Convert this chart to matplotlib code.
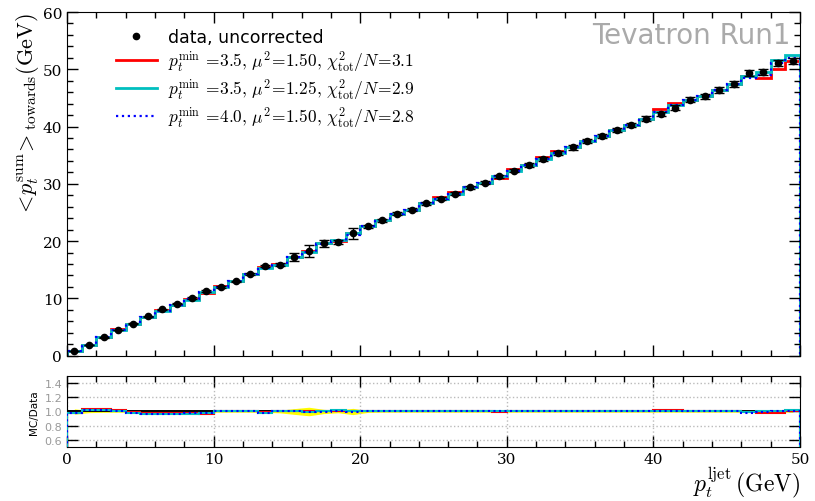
import numpy as np
import matplotlib.pyplot as plt
from matplotlib.lines import Line2D
from matplotlib.ticker import MultipleLocator

plt.rcParams['mathtext.fontset'] = 'cm'

# bin edges of p_t^ljet (GeV), 1 GeV wide
edges = np.arange(0, 51, 1)

# data, uncorrected: <p_t^sum>_towards per bin and its error
data = [0.8, 1.85, 3.2, 4.5, 5.6, 6.9, 8.1, 9.05, 10.05, 11.3,
        12.0, 12.95, 14.2, 15.6, 15.9, 17.3, 18.25, 19.65, 19.8, 21.35,
        22.55, 23.6, 24.8, 25.5, 26.6, 27.4, 28.3, 29.4, 30.2, 31.3,
        32.3, 33.3, 34.4, 35.3, 36.35, 37.5, 38.4, 39.4, 40.25, 41.4,
        42.2, 43.3, 44.65, 45.25, 46.4, 47.4, 49.3, 49.55, 51.05, 51.45]
data_err = [0.03, 0.03, 0.04, 0.05, 0.06, 0.07, 0.08, 0.09, 0.1, 0.12,
            0.12, 0.13, 0.15, 0.18, 0.3, 0.7, 1.1, 0.6, 0.35, 0.95,
            0.3, 0.24, 0.25, 0.25, 0.27, 0.27, 0.28, 0.3, 0.3, 0.32,
            0.32, 0.33, 0.34, 0.35, 0.36, 0.37, 0.38, 0.39, 0.4, 0.41,
            0.42, 0.43, 0.45, 0.45, 0.46, 0.47, 0.55, 0.5, 0.5, 0.5]

# MC/Data ratios
ratio_red = [0.98, 1.03, 1.03, 1.02, 0.99, 0.98, 0.98, 0.98, 0.98, 0.97,
             1.01, 1.01, 1.00, 0.99, 1.01, 1.00, 1.00, 1.00, 1.01, 1.00,
             1.00, 1.00, 1.00, 1.00, 1.00, 1.01, 1.01, 1.00, 1.00, 0.99,
             1.01, 1.00, 1.01, 1.01, 1.00, 1.00, 1.00, 1.00, 1.00, 1.00,
             1.02, 1.02, 1.00, 1.00, 1.00, 1.00, 0.99, 0.98, 0.98, 1.00]
ratio_cyan = [0.98, 1.02, 1.02, 1.01, 0.98, 0.97, 0.97, 0.97, 0.97, 0.98,
              1.00, 1.00, 1.00, 0.98, 1.00, 1.00, 0.99, 1.00, 1.02, 1.00,
              1.00, 1.00, 1.00, 1.00, 1.00, 1.00, 1.00, 1.00, 1.00, 1.00,
              1.00, 1.00, 1.00, 1.00, 1.00, 1.00, 1.00, 1.00, 1.00, 1.00,
              1.01, 1.01, 1.00, 1.00, 1.00, 1.00, 0.99, 1.00, 1.01, 1.02]
ratio_blue = [0.98, 1.02, 1.02, 1.00, 0.98, 0.97, 0.97, 0.97, 0.98, 0.98,
              1.00, 1.00, 1.00, 0.98, 1.00, 1.00, 0.99, 0.99, 1.01, 0.99,
              1.00, 1.00, 1.00, 1.00, 1.00, 1.00, 1.00, 1.00, 1.00, 1.00,
              1.00, 1.00, 1.00, 1.00, 1.00, 1.00, 1.00, 1.00, 1.00, 1.00,
              1.01, 1.01, 1.00, 1.00, 1.00, 1.00, 0.985, 0.99, 1.00, 1.01]

labels = [r'$p_t^{\rm min}\,=\!3.5,\, \mu^2\!=\!1.50,\, \chi^2_{\rm tot}/N\!=\!3.1$',
          r'$p_t^{\rm min}\,=\!3.5,\, \mu^2\!=\!1.25,\, \chi^2_{\rm tot}/N\!=\!2.9$',
          r'$p_t^{\rm min}\,=\!4.0,\, \mu^2\!=\!1.50,\, \chi^2_{\rm tot}/N\!=\!2.8$']

d = np.array(data)
de = np.array(data_err)
centers = 0.5 * (edges[:-1] + edges[1:])

fig = plt.figure(figsize=(8.15, 5.02), dpi=100)
ax = fig.add_axes([0.0822, 0.2896, 0.8994, 0.6845])
axr = fig.add_axes([0.0822, 0.1076, 0.8994, 0.1414])

styles = [dict(color='#ff0000', lw=2.0, ls='-'),
          dict(color='#00bfbf', lw=2.0, ls='-'),
          dict(color='#0000ff', lw=1.6, ls=':')]
ratios = [ratio_red, ratio_cyan, ratio_blue]

handles = [Line2D([], [], color='k', marker='o', ls='none', ms=4.5)]
for r, st in zip(ratios, styles):
    ax.stairs(d * np.array(r), edges, **st)
    handles.append(Line2D([], [], **st))

ax.errorbar(centers, d, yerr=de, fmt='o', color='k', ms=4.5,
            capsize=3.5, elinewidth=1.0, capthick=1.0, zorder=5)

ax.set_xlim(0, 50)
ax.set_ylim(0, 60)
ax.xaxis.set_major_locator(MultipleLocator(10))
ax.xaxis.set_minor_locator(MultipleLocator(2))
ax.yaxis.set_major_locator(MultipleLocator(10))
ax.yaxis.set_minor_locator(MultipleLocator(2))
ax.tick_params(which='both', direction='in', top=True, right=True)
ax.tick_params(which='major', length=8, width=1)
ax.tick_params(which='minor', length=4, width=1)
ax.tick_params(axis='x', labelbottom=False)
for lab in ax.get_yticklabels():
    lab.set_family('DejaVu Serif')
    lab.set_fontsize(11)
ax.set_ylabel(r'$<\!p_t^{\rm sum}\!>_{\rm towards}({\rm GeV})$', fontsize=16,
              loc='top', labelpad=1)

ax.text(0.987, 0.975, 'Tevatron Run1', transform=ax.transAxes, ha='right', va='top',
        fontsize=20, color='#aaaaaa')

ax.legend(handles, ['data, uncorrected'] + labels, loc='upper left',
          bbox_to_anchor=(0.045, 0.998), frameon=False, fontsize=12.5,
          handlelength=2.4, handletextpad=0.6, labelspacing=0.15, numpoints=1)

# ratio panel
rel = de / d
axr.fill_between(centers, 1 - rel, 1 + rel, color='#ffff00', lw=0, zorder=1)
for r, st in zip(ratios, styles):
    axr.stairs(r, edges, zorder=3, **dict(st, lw=1.5))
axr.axhline(1.0, color='k', lw=1.4, zorder=2)

axr.set_xlim(0, 50)
axr.set_ylim(0.5, 1.5)
axr.xaxis.set_major_locator(MultipleLocator(10))
axr.xaxis.set_minor_locator(MultipleLocator(2))
axr.set_yticks([0.6, 0.8, 1.0, 1.2, 1.4])
axr.grid(True, which='major', color='#bbbbbb', ls=':', lw=1)
axr.tick_params(which='both', direction='in', top=True, right=True)
axr.tick_params(which='major', length=8, width=1)
axr.tick_params(which='minor', length=4, width=1)
axr.tick_params(axis='y', labelsize=8, labelcolor='#999999')
for lab in axr.get_xticklabels():
    lab.set_family('DejaVu Serif')
    lab.set_fontsize(11)
axr.set_ylabel('MC/Data', fontsize=7.5)
axr.set_xlabel(r'$p_t^{\rm ljet}\,({\rm GeV})$', fontsize=17, loc='right', labelpad=-1)

fig.savefig('out.png', dpi=100)
